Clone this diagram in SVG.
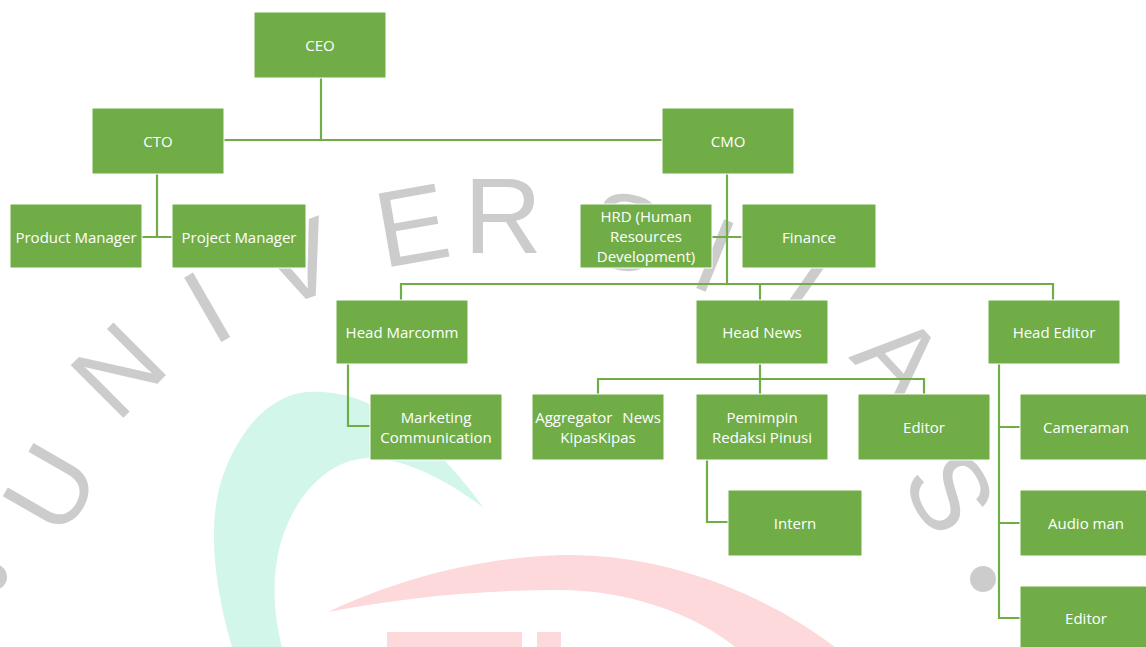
<svg xmlns="http://www.w3.org/2000/svg" width="1146" height="647" viewBox="0 0 1146 647">
<style>
.wm{font-family:"Liberation Sans",Arial,sans-serif;font-size:108px;fill:#cccccc;text-anchor:middle;dominant-baseline:central}
.box{fill:#70ad47;stroke:#ffffff;stroke-width:1}
.lbl{font-family:"Open Sans","Liberation Sans",sans-serif;font-size:15px;fill:#ffffff;text-anchor:middle;dominant-baseline:central}
.con{fill:none;stroke:#70ad47;stroke-width:2.2}
</style>
<rect width="1146" height="647" fill="#ffffff"/>
<g id="watermark">
<path d="M232,647 C215,590 205,520 225,470 C245,420 275,395 307,392 C360,388 420,420 484,508 C440,475 400,458 368,458 C320,460 285,510 277,560 C272,590 275,620 282,647 Z" fill="#d3f6ea"/>
<path d="M328,612 C400,578 480,558 560,555 C660,553 760,590 835,647 L735,647 C690,610 620,590 560,590 C480,590 400,598 328,612 Z" fill="#fdd9db"/>
<rect x="387" y="632" width="135" height="15" fill="#fdd9db"/>
<rect x="537" y="632" width="24" height="15" fill="#fdd9db"/>
<text class="wm" transform="translate(50,488) rotate(-60)">U</text>
<text class="wm" transform="translate(118,370) rotate(-45)">N</text>
<text class="wm" transform="translate(207,307) rotate(-30)">I</text>
<text class="wm" transform="translate(298,262) rotate(-20)">V</text>
<text class="wm" transform="translate(412,225) rotate(-10)">E</text>
<text class="wm" transform="translate(503,215) rotate(0)">R</text>
<text class="wm" transform="translate(625,232) rotate(12)">S</text>
<text class="wm" transform="translate(715,255) rotate(22)">I</text>
<text class="wm" transform="translate(815,272) rotate(35)">T</text>
<text class="wm" transform="translate(900,358) rotate(47)">A</text>
<text class="wm" transform="translate(950,492) rotate(60)">S</text>
<circle cx="983" cy="579" r="13" fill="#cccccc"/>
<circle cx="-6" cy="577" r="13" fill="#cccccc"/>
</g>
<g id="connectors">
<path class="con" d="M321,78 V140 M224,140 H662"/>
<path class="con" d="M157,174 V237 M142,237 H172"/>
<path class="con" d="M727,174 V284 M712,237 H742"/>
<path class="con" d="M401,300 V284 H1053 V300 M760,284 V300"/>
<path class="con" d="M348,364 V426 H370"/>
<path class="con" d="M760,364 V394 M598,394 V379 H924 V394"/>
<path class="con" d="M707,460 V522 H728"/>
<path class="con" d="M999,364 V618 H1020 M999,427 H1020 M999,523 H1020"/>
</g>
<g id="ceo"><rect class="box" x="254" y="12" width="132" height="66"/><text class="lbl" x="320" y="45">CEO</text></g>
<g id="cto"><rect class="box" x="92" y="108" width="132" height="66"/><text class="lbl" x="158" y="141">CTO</text></g>
<g id="cmo"><rect class="box" x="662" y="108" width="132" height="66"/><text class="lbl" x="728" y="141">CMO</text></g>
<g id="product-manager"><rect class="box" x="10" y="204" width="132" height="64"/><text class="lbl" x="76" y="237">Product Manager</text></g>
<g id="project-manager"><rect class="box" x="172" y="204" width="134" height="64"/><text class="lbl" x="239" y="237">Project Manager</text></g>
<g id="hrd"><rect class="box" x="580" y="204" width="132" height="64"/><text class="lbl" x="646" y="216">HRD (Human</text><text class="lbl" x="646" y="236">Resources</text><text class="lbl" x="646" y="256">Development)</text></g>
<g id="finance"><rect class="box" x="742" y="204" width="134" height="64"/><text class="lbl" x="809" y="237">Finance</text></g>
<g id="head-marcomm"><rect class="box" x="336" y="300" width="132" height="64"/><text class="lbl" x="402" y="332">Head Marcomm</text></g>
<g id="head-news"><rect class="box" x="696" y="300" width="132" height="64"/><text class="lbl" x="762" y="332">Head News</text></g>
<g id="head-editor"><rect class="box" x="988" y="300" width="132" height="64"/><text class="lbl" x="1054" y="332">Head Editor</text></g>
<g id="marketing-communication"><rect class="box" x="370" y="394" width="132" height="66"/><text class="lbl" x="436" y="417">Marketing</text><text class="lbl" x="436" y="437">Communication</text></g>
<g id="aggregator"><rect class="box" x="532" y="394" width="132" height="66"/><text class="lbl" x="598" y="417" word-spacing="6">Aggregator News</text><text class="lbl" x="598" y="437">KipasKipas</text></g>
<g id="pemimpin"><rect class="box" x="696" y="394" width="132" height="66"/><text class="lbl" x="762" y="417">Pemimpin</text><text class="lbl" x="762" y="437">Redaksi Pinusi</text></g>
<g id="editor-news"><rect class="box" x="858" y="394" width="132" height="66"/><text class="lbl" x="924" y="427">Editor</text></g>
<g id="cameraman"><rect class="box" x="1020" y="394" width="127" height="66"/><text class="lbl" x="1086" y="427">Cameraman</text></g>
<g id="intern"><rect class="box" x="728" y="490" width="134" height="66"/><text class="lbl" x="795" y="523">Intern</text></g>
<g id="audio-man"><rect class="box" x="1020" y="490" width="127" height="66"/><text class="lbl" x="1086" y="523">Audio man</text></g>
<g id="editor-2"><rect class="box" x="1020" y="586" width="127" height="62"/><text class="lbl" x="1086" y="618">Editor</text></g>
</svg>
